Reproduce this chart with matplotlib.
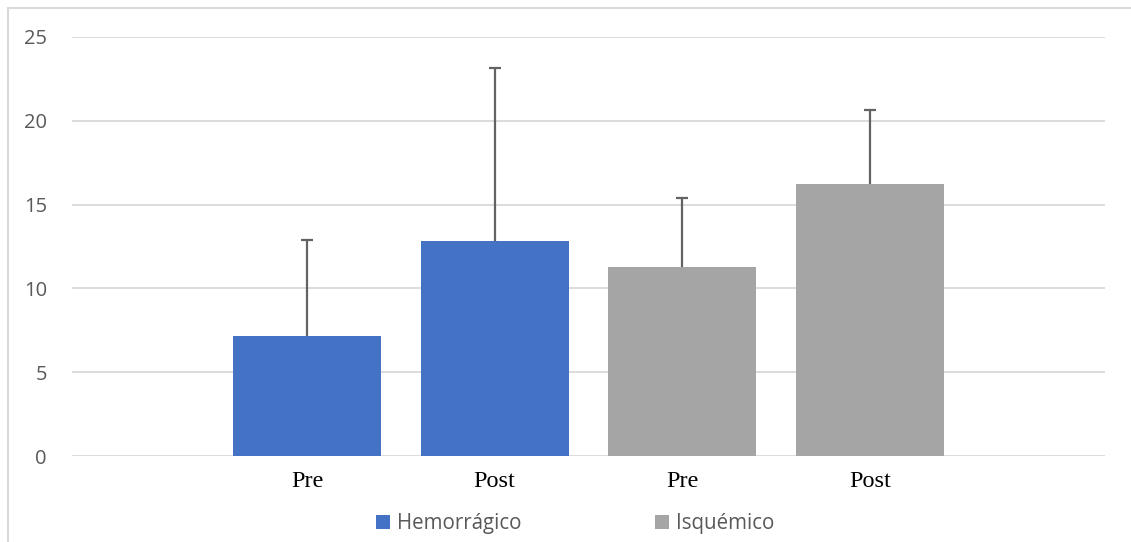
import numpy as np
import matplotlib
matplotlib.use('Agg')
import matplotlib.pyplot as plt
from matplotlib.lines import Line2D

# datos
categorias = ['Pre', 'Post', 'Pre', 'Post']
grupos = ['Hemorrágico', 'Hemorrágico', 'Isquémico', 'Isquémico']
medias = [7.16, 12.82, 11.27, 16.22]
desvios = [5.72, 10.32, 4.11, 4.41]
yticks = [0, 5, 10, 15, 20, 25]

colores = {'Hemorrágico': '#4472C4', 'Isquémico': '#A5A5A5'}

W, H = 1131, 542
fig = plt.figure(figsize=(W/100, H/100), dpi=100)
ax = fig.add_axes([72/W, 1-456/H, (1105-72)/W, (456-37)/H])

x = np.arange(len(categorias))
bars = ax.bar(x, medias, width=0.788, color=[colores[g] for g in grupos], zorder=2)
eb = ax.errorbar(x, medias, yerr=[np.zeros(len(desvios)), desvios], fmt='none',
                 ecolor='#636363', elinewidth=1.6, capsize=4.3, capthick=1.6, zorder=3)
# solo la barra de error superior
eb[1][0].set_visible(False)

ax.set_xlim(-1.252, len(categorias) - 1 + 1.252)
ax.set_ylim(0, 25)
ax.set_yticks(yticks)
ax.yaxis.grid(True, color='#D9D9D9', linewidth=1.3, zorder=0)
ax.set_axisbelow(True)
for s in ax.spines.values():
    s.set_visible(False)
ax.tick_params(length=0)
ax.tick_params(axis='y', labelsize=14.5, labelcolor='#595959', pad=18)
for lab in ax.get_yticklabels():
    lab.set_fontfamily('Open Sans')
ax.set_xticks(x)
ax.set_xticklabels(categorias, fontfamily='Liberation Serif', fontsize=17.5, color='black')
ax.tick_params(axis='x', pad=11)

handles = [bars[0], bars[2]]
fig.legend(handles, ['Hemorrágico', 'Isquémico'], loc='center',
           bbox_to_anchor=(575/W, 1-524/H), ncol=2, frameon=False,
           prop={'family': 'Open Sans', 'size': 14.8}, labelcolor='#595959',
           handlelength=0.68, handleheight=0.68, handletextpad=0.35, columnspacing=6.5)

# marco del grafico
fig.add_artist(Line2D([7.5/W, 7.5/W], [0, 1-7.5/H], color='#D9D9D9', linewidth=1.5))
fig.add_artist(Line2D([7.5/W, 1], [1-7.5/H, 1-7.5/H], color='#D9D9D9', linewidth=1.5))

fig.savefig('out.png', dpi=100)
